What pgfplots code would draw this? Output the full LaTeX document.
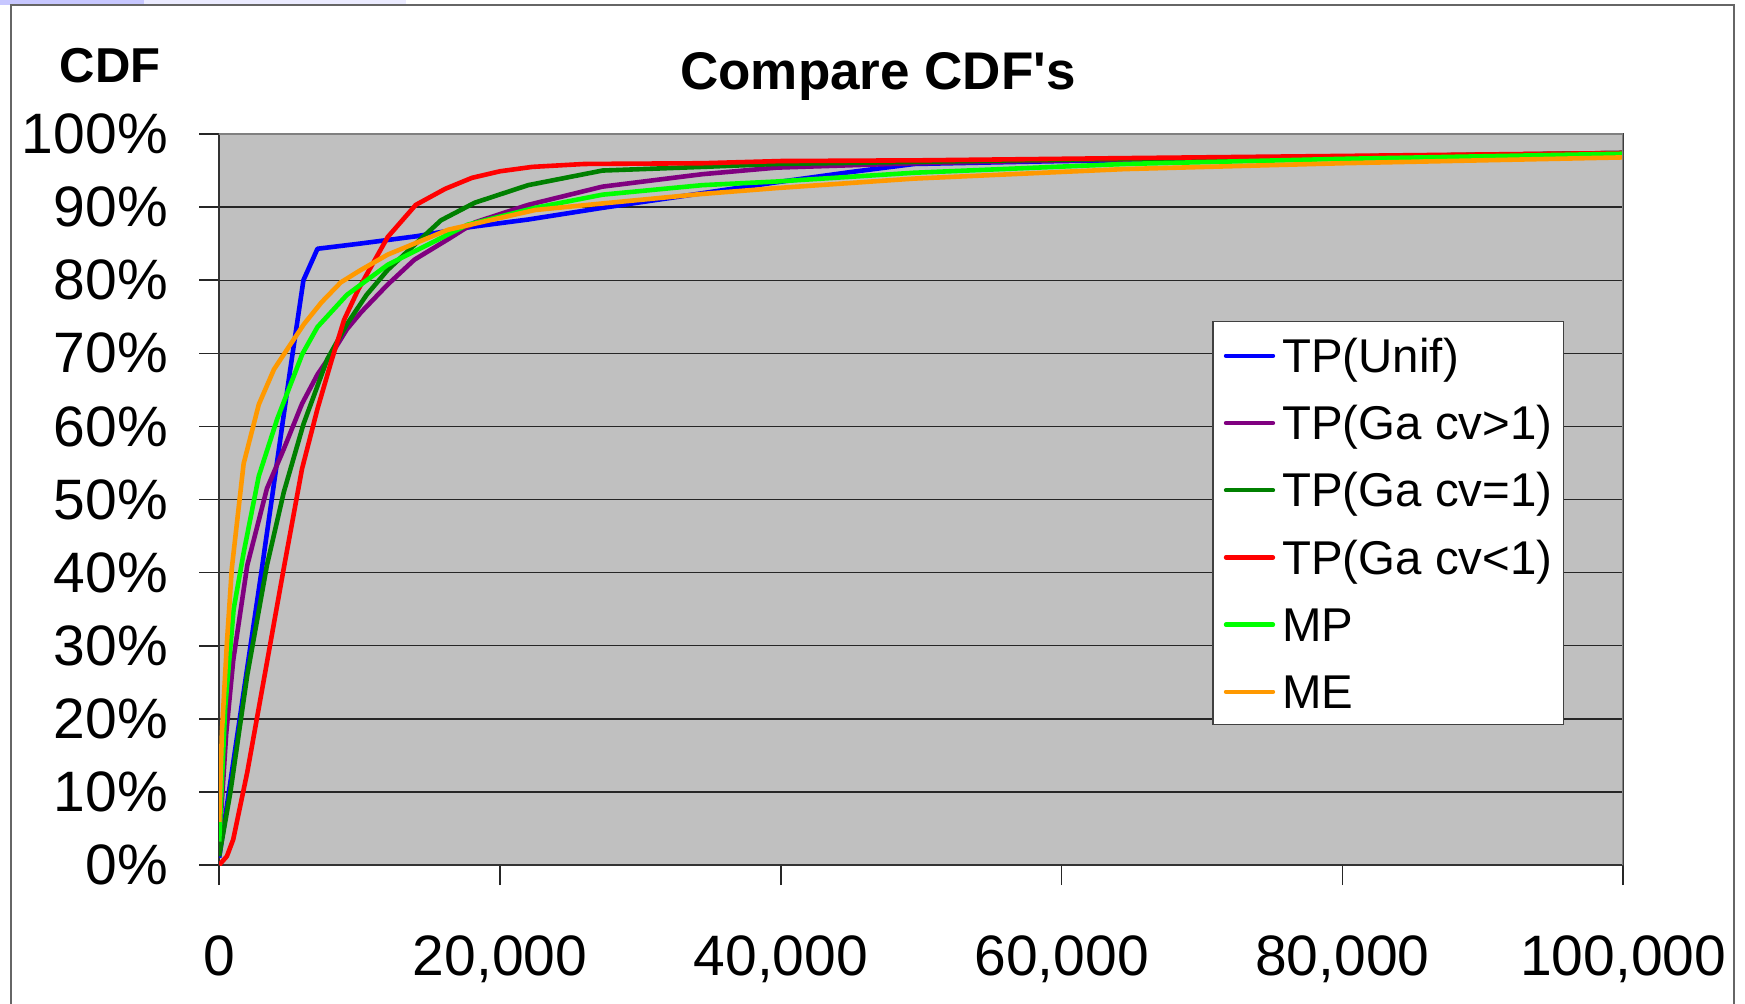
\documentclass[border=0pt]{standalone}
\usepackage{pgfplots}
\pgfplotsset{compat=1.18}
\usepackage{fontspec}
\setmainfont{Liberation Sans}
\newfontfamily\plainfont{Liberation Sans}
\definecolor{cblue}{HTML}{0000FF}
\definecolor{cpurple}{HTML}{800080}
\definecolor{cdgreen}{HTML}{008000}
\definecolor{cred}{HTML}{FF0000}
\definecolor{clime}{HTML}{00FF00}
\definecolor{corange}{HTML}{FF9900}
\definecolor{plotgray}{HTML}{C0C0C0}
\definecolor{framegray}{HTML}{808080}
\begin{document}
\begin{tikzpicture}[x=1pt,y=1pt]
\useasboundingbox (0,0) rectangle (872.5,501.5);
\fill[white] (0,0) rectangle (872.5,501.5);
\fill[blue!22!white] (0,499.2) rectangle (72,501.5);
\fill[blue!8!white] (72,499.2) rectangle (203,501.5);
\draw[black!60, line width=0.9pt] (5.5,-1) -- (5.5,499) -- (867,499) -- (867,-1);
\node[anchor=base, font=\fontsize{24.5}{29}\selectfont\bfseries] at (55,460) {CDF};
\node[anchor=base, font=\plainfont\fontsize{26.5}{32}\selectfont\bfseries] at (439,456.5) {Compare CDF's};
\begin{axis}[
  at={(109.6pt,69pt)}, anchor=south west,
  scale only axis, width=702pt, height=365.5pt,
  xmin=0, xmax=100000, ymin=0, ymax=100,
  axis background/.style={fill=plotgray},
  axis line style={black!80, line width=1pt},
  xtick pos=bottom, ytick pos=left,
  tick align=outside, major tick length=10pt,
  tick style={black!85, line width=0.8pt},
  ymajorgrids, grid style={black!85, line width=0.7pt},
  xtick={0,20000,40000,60000,80000,100000},
  xticklabels={0,{20,000},{40,000},{60,000},{80,000},{100,000}},
  ytick={0,10,...,100},
  yticklabels={0\%,10\%,20\%,30\%,40\%,50\%,60\%,70\%,80\%,90\%,100\%},
  scaled x ticks=false,
  ticklabel style={font=\fontsize{28.5}{34}\selectfont},
  yticklabel style={anchor=east, xshift=-12.2pt},
  xticklabel style={anchor=base, yshift=-45pt},
  every axis plot/.append style={line width=2.3pt, line join=round},
  legend cell align=left,
  legend image code/.code={\draw[#1, line width=2.2pt, line cap=round] (0pt,-0.5pt) -- (23.5pt,-0.5pt);},
  legend style={at={(0.7071,0.7448)}, anchor=north west, draw=black!75, fill=white, line width=0.8pt,
    font=\fontsize{23.7}{28}\selectfont, inner xsep=5.5pt, inner ysep=3pt,
    row sep=6.1pt, column sep=3.6pt,
    nodes={inner sep=0pt, text height=22.6pt, text depth=4.9pt}},
]
\addplot[cblue] coordinates {(0,1) (500,7.5) (1000,14) (2000,27) (3000,40) (4000,53.5) (5000,67) (6000,80) (7000,84.3) (10000,85) (14000,86) (18000,87.3) (22000,88.3) (27300,89.9) (33000,91.5) (39700,93.4) (45000,94.8) (49500,95.9) (60000,96.3) (80000,96.8) (100000,97.4)};
\addlegendentry{TP(Unif)}
\addplot[cpurple] coordinates {(0,3) (500,18) (1000,28) (2000,41) (3400,51.5) (4600,56.9) (5900,63.1) (7000,67.1) (8200,70.5) (9100,73.3) (10100,75.6) (12000,79.4) (13900,82.8) (16300,85.6) (18200,87.9) (22000,90.3) (27300,92.8) (34400,94.5) (39700,95.4) (49500,96) (60000,96.4) (80000,96.9) (100000,97.4)};
\addlegendentry{TP(Ga cv>1)}
\addplot[cdgreen] coordinates {(0,1.2) (800,10) (2000,26) (3400,41) (4600,51) (6000,60.3) (7700,69.2) (9100,74) (10500,78) (12000,81.4) (14000,85) (15800,88.2) (18200,90.6) (22000,93) (27300,95) (34400,95.5) (39700,95.9) (50000,96.2) (60000,96.5) (80000,96.9) (100000,97.4)};
\addlegendentry{TP(Ga cv=1)}
\addplot[cred] coordinates {(0,0) (550,1.2) (1000,3.5) (2000,12.7) (3400,27.7) (4600,40.6) (5900,54.2) (7000,62.4) (8000,69) (8900,74.6) (9900,78.7) (12000,85.9) (14000,90.3) (16100,92.5) (18000,94) (20000,94.9) (22300,95.5) (26000,95.9) (34400,96) (40000,96.3) (50000,96.4) (64500,96.7) (80000,97) (100000,97.4)};
\addlegendentry{TP(Ga cv<1)}
\addplot[clime] coordinates {(0,3.2) (430,21.6) (1030,35) (1740,42.7) (2820,53.2) (4130,61) (5920,69.9) (7000,73.6) (9100,78) (12000,82.1) (17700,87.6) (22500,89.9) (27300,91.7) (34400,93) (39700,93.5) (49500,94.7) (64500,95.9) (80000,96.6) (100000,97.3)};
\addlegendentry{MP}
\addplot[corange] coordinates {(0,5.9) (190,18) (550,30.4) (900,40.6) (1740,54.9) (2820,63) (3900,67.8) (5000,71) (6040,74) (7300,77) (8660,79.7) (10000,81.3) (12000,83.5) (16300,86.9) (22500,89.6) (27300,90.5) (34400,91.8) (39700,92.6) (49500,93.9) (64500,95.2) (80000,96) (100000,96.8)};
\addlegendentry{ME}
\draw[framegray, line width=1pt] (rel axis cs:0,1) -- (rel axis cs:1,1) -- (rel axis cs:1,0);
\end{axis}
\end{tikzpicture}
\end{document}
